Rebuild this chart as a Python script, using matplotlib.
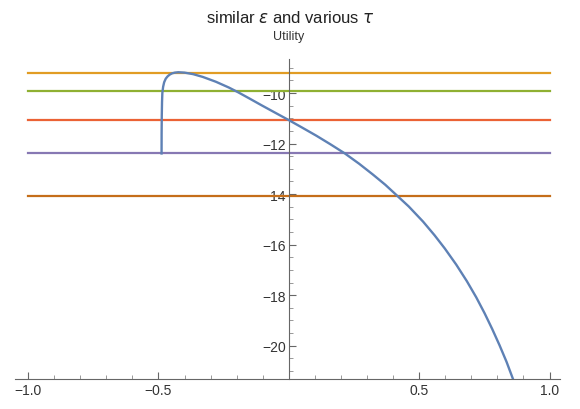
import matplotlib
matplotlib.use("Agg")
import matplotlib.pyplot as plt
from matplotlib.ticker import MultipleLocator, FixedLocator

plt.rcParams['font.family'] = ['Liberation Sans', 'DejaVu Sans']
plt.rcParams['mathtext.fontset'] = 'dejavusans'

# Utility curve
curve_x = [-0.488, -0.4878, -0.4872, -0.4862, -0.485, -0.482, -0.478, -0.472, -0.465, -0.457,
           -0.448, -0.437, -0.424, -0.40, -0.367, -0.33, -0.28, -0.23, -0.194, -0.15,
           -0.105, -0.05, 0.0, 0.05, 0.106, 0.16, 0.215, 0.27, 0.323, 0.37,
           0.413, 0.46, 0.515, 0.559, 0.598, 0.642, 0.683, 0.719, 0.751, 0.780,
           0.808, 0.835, 0.859]
curve_y = [-12.39, -11.6, -10.9, -10.35, -10.0, -9.75, -9.57, -9.43, -9.34, -9.27,
           -9.22, -9.19, -9.175, -9.19, -9.25, -9.36, -9.55, -9.78, -9.97, -10.22,
           -10.48, -10.79, -11.07, -11.36, -11.69, -12.03, -12.39, -12.80, -13.23, -13.63,
           -14.04, -14.49, -15.09, -15.63, -16.15, -16.79, -17.45, -18.09, -18.72, -19.34,
           -19.98, -20.64, -21.3]

# constant levels
levels = [-9.21, -9.93, -11.07, -12.39, -14.06]
level_colors = ['#E19C24', '#8FB032', '#EB6235', '#8778B3', '#C56E1A']
line_x = [-1.0, 1.0]

fig = plt.figure(figsize=(5.8, 4.1), dpi=100)
ax = fig.add_axes([0.0259, 0.0732, 0.9396, 0.7805])
ax.set_xlim(-1.05, 1.04)
ax.set_ylim(-21.32, -8.65)

ax.plot(curve_x, curve_y, color='#5E81B5', lw=1.7, zorder=3, clip_on=True,
        solid_joinstyle='round')
for lv, c in zip(levels, level_colors):
    ax.plot(line_x, [lv, lv], color=c, lw=1.6, zorder=2)

for s in ['top', 'right']:
    ax.spines[s].set_visible(False)
ax.spines['left'].set_position(('data', 0))
for s in ['left', 'bottom']:
    ax.spines[s].set_color('#666666')
    ax.spines[s].set_linewidth(0.8)

ax.xaxis.set_major_locator(FixedLocator([-1.0, -0.5, 0.5, 1.0]))
ax.set_xticklabels(['\u22121.0', '\u22120.5', '0.5', '1.0'])
ax.xaxis.set_minor_locator(MultipleLocator(0.1))
ax.yaxis.set_major_locator(MultipleLocator(2))
ax.yaxis.set_major_formatter(plt.FuncFormatter(lambda v, p: ('\u2212%d' % abs(v)) if v < 0 else '%d' % v))
ax.yaxis.set_minor_locator(MultipleLocator(0.5))

ax.tick_params(axis='both', which='major', direction='in', length=5, width=0.8,
               color='#666666', labelsize=10, labelcolor='#333333')
ax.tick_params(axis='both', which='minor', direction='in', length=3, width=0.6,
               color='#888888')
ax.tick_params(axis='x', pad=3)
ax.tick_params(axis='y', pad=2)

fig.text(0.5, 0.955, 'similar $\\epsilon$ and various $\\tau$', ha='center', va='center',
         fontsize=12, color='#222222')
fig.text(0.4983, 0.91, 'Utility', ha='center', va='center', fontsize=9, color='#333333')

fig.savefig('out.png', dpi=100, facecolor='white')
